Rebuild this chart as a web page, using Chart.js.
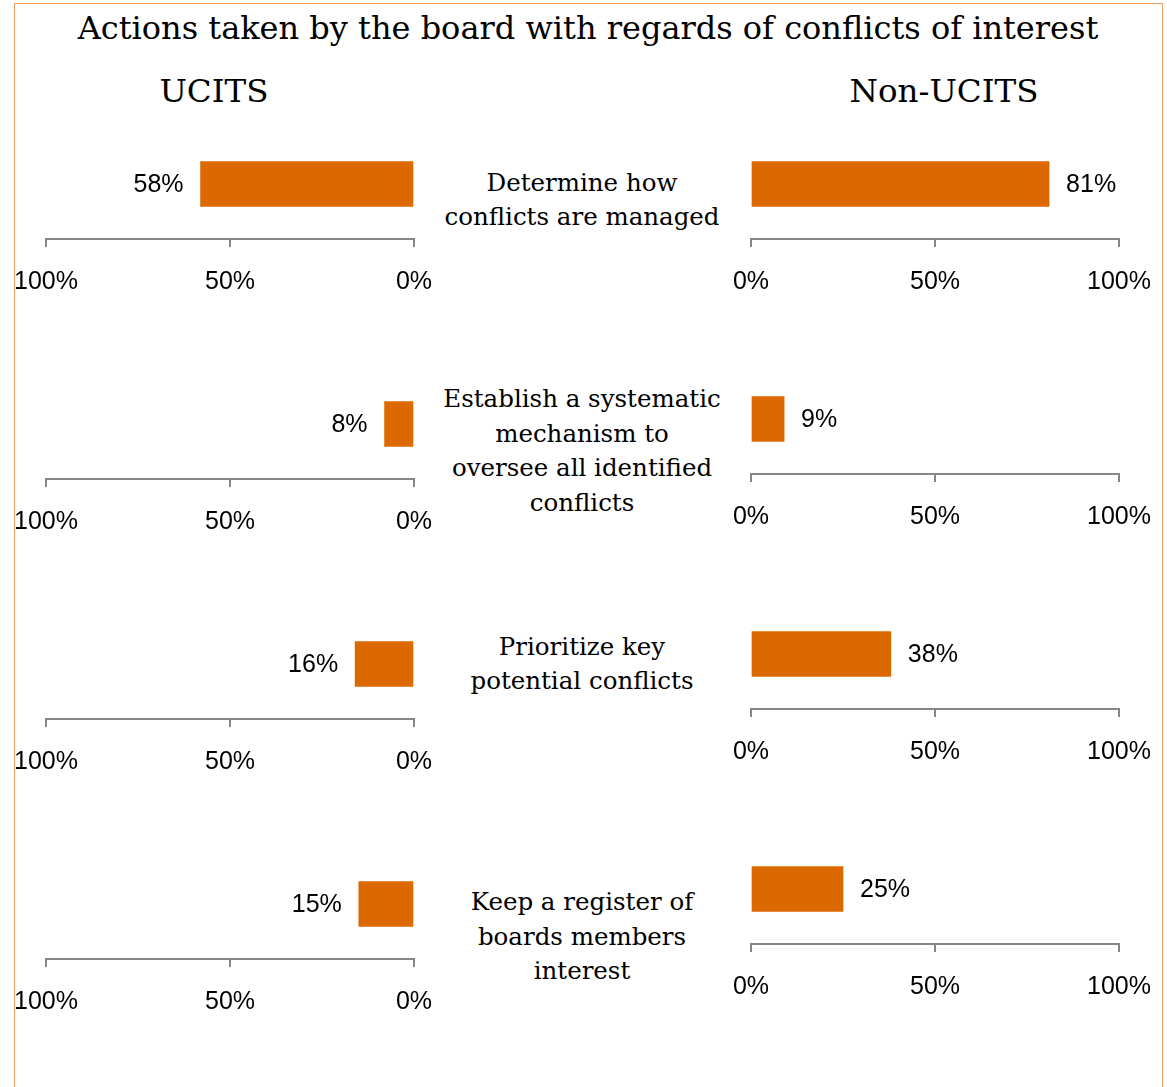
<!DOCTYPE html>
<html>
<head>
<meta charset="utf-8">
<script src="https://cdn.jsdelivr.net/npm/chart.js@4.4.1/dist/chart.umd.min.js"></script>
<style>
  html, body { margin: 0; padding: 0; background: #fff; }
  body { width: 1167px; height: 1087px; position: relative; overflow: hidden; }
  .frame { position: absolute; left: 14px; top: 3px; width: 1147px; height: 1100px;
    border: 1px solid #F0A060; border-bottom: none; }
  .serif { position: absolute; font-family: "DejaVu Serif", serif; color: #000; white-space: nowrap; }
  .title { left: 0; width: 1176px; top: 8px; text-align: center; font-size: 32px; line-height: 40px; }
  .sub { font-size: 32.5px; line-height: 40px; top: 71px; text-align: center; width: 300px; }
  .cat { font-size: 24.5px; line-height: 34.5px; text-align: center; width: 340px; left: 412px; }
  .box { position: absolute; }
</style>
</head>
<body>
<div class="frame"></div>
<div class="serif title">Actions taken by the board with regards of conflicts of interest</div>
<div class="serif sub" style="left:64px">UCITS</div>
<div class="serif sub" style="left:794px">Non-UCITS</div>
<div id="cats"></div>
<div id="charts"></div>
<script>
const categories = [
  ['Determine how', 'conflicts are managed'],
  ['Establish a systematic', 'mechanism to', 'oversee all identified', 'conflicts'],
  ['Prioritize key', 'potential conflicts'],
  ['Keep a register of', 'boards members', 'interest']
];
const ucitsValues = [58, 8, 16, 15];
const nonUcitsValues = [81, 9, 38, 25];
const tickValues = [0, 50, 100];

// layout (px)
const catCenterY = [200, 451, 664, 937];
const leftTop = [129, 369, 609, 849];
const rightTop = [129, 364, 599, 834];

const orange = '#DC6900';
const axisGrey = '#868686';
const sansFont = '"Liberation Sans", Arial, sans-serif';

const catsEl = document.getElementById('cats');
categories.forEach((lines, i) => {
  const d = document.createElement('div');
  d.className = 'serif cat';
  d.style.top = (catCenterY[i] - lines.length * 34.5 / 2) + 'px';
  d.innerHTML = lines.join('<br>');
  catsEl.appendChild(d);
});

const valueLabels = {
  id: 'valueLabels',
  afterDatasetsDraw(chart) {
    const ctx = chart.ctx;
    const rev = chart.options.scales.x.reverse;
    chart.getDatasetMeta(0).data.forEach((bar, i) => {
      const v = chart.data.datasets[0].data[i];
      ctx.save();
      ctx.font = '25px ' + sansFont;
      ctx.fillStyle = '#000';
      ctx.textBaseline = 'middle';
      ctx.textAlign = rev ? 'right' : 'left';
      ctx.fillText(v + '%', bar.x + (rev ? -17 : 17), bar.y + 1);
      ctx.restore();
    });
  }
};

// plot area spans 40px inside the box on each side
function makeChart(left, top, value, reverse) {
  const box = document.createElement('div');
  box.className = 'box';
  box.style.left = left + 'px';
  box.style.top = top + 'px';
  box.style.width = '448px';
  box.style.height = '170px';
  const canvas = document.createElement('canvas');
  box.appendChild(canvas);
  document.getElementById('charts').appendChild(box);

  const chart = new Chart(canvas, {
    type: 'bar',
    data: {
      labels: [''],
      datasets: [{ data: [value], backgroundColor: orange, barThickness: 45 }]
    },
    options: {
      indexAxis: 'y',
      responsive: true,
      maintainAspectRatio: false,
      animation: false,
      layout: { padding: { left: 40, right: 40, top: 0, bottom: 0 } },
      scales: {
        y: { display: false },
        x: {
          reverse: reverse,
          min: 0,
          max: 100,
          afterBuildTicks: s => { s.ticks = tickValues.map(v => ({ value: v })) },
          afterFit: s => { s.height = 60 },
          grid: { drawOnChartArea: false, drawTicks: true, tickLength: 8, color: axisGrey, lineWidth: 2 },
          border: { color: axisGrey, width: 2 },
          ticks: {
            padding: 20,
            color: '#000',
            font: { family: sansFont, size: 25 },
            maxRotation: 0,
            callback: v => v + '%'
          }
        }
      },
      plugins: { legend: { display: false }, tooltip: { enabled: false } }
    },
    plugins: [valueLabels]
  });

  // keep the plot width at 368px even if the library trims the right side
  const extra = 408 - chart.chartArea.right;
  if (Math.abs(extra) > 0.5) {
    box.style.width = (448 + extra) + 'px';
    chart.resize();
  }
}

ucitsValues.forEach((v, i) => makeChart(6, leftTop[i], v, true));
nonUcitsValues.forEach((v, i) => makeChart(711, rightTop[i], v, false));
</script>
</body>
</html>
